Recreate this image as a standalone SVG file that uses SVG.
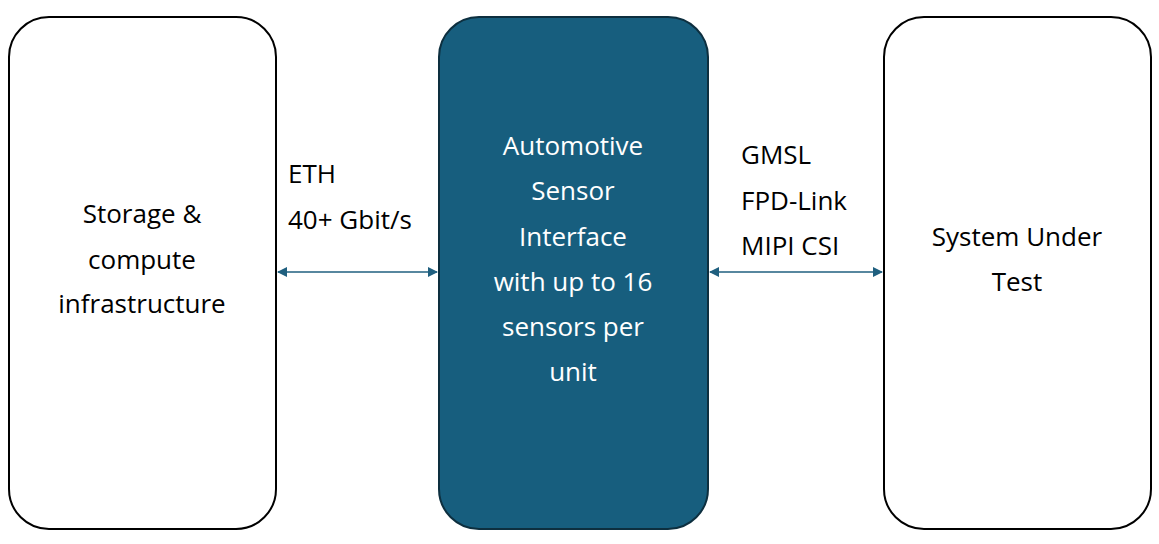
<svg xmlns="http://www.w3.org/2000/svg" width="1159" height="544" viewBox="0 0 1159 544">
<style>
.box{fill:#fff;stroke:#000;stroke-width:2}
.mid{fill:#175E7E;stroke:#0d2f3f;stroke-width:2}
text{font-family:"Open Sans","Liberation Sans",sans-serif;font-size:26px}
.c{text-anchor:middle}
.w{fill:#fff}
.conn{stroke:#1F5F7F;stroke-width:1.5;fill:none}
</style>
<defs>
<marker id="ah" viewBox="0 0 10 10" refX="9" refY="5" markerWidth="10" markerHeight="10" markerUnits="userSpaceOnUse" orient="auto-start-reverse"><path d="M0,0 L10,5 L0,10 z" fill="#1F5F7F"/></marker>
</defs>
<rect width="1159" height="544" fill="#fff"/>
<g id="storage"><rect class="box" x="9" y="17" width="267" height="512" rx="40"/>
<text class="c" x="142" y="223">Storage &amp;</text><text class="c" x="142" y="269">compute</text><text class="c" x="142" y="313">infrastructure</text></g>
<g id="interface"><rect class="mid" x="439" y="17" width="269" height="512" rx="40"/>
<text class="c w" x="573" y="155">Automotive</text><text class="c w" x="573" y="200">Sensor</text><text class="c w" x="573" y="246">Interface</text><text class="c w" x="573" y="291">with up to 16</text><text class="c w" x="573" y="336">sensors per</text><text class="c w" x="573" y="381">unit</text></g>
<g id="sut"><rect class="box" x="884" y="17" width="267" height="512" rx="40"/>
<text class="c" x="1017" y="246">System Under</text><text class="c" x="1017" y="291">Test</text></g>
<g id="connectors">
<line class="conn" x1="278" y1="272" x2="437" y2="272" marker-start="url(#ah)" marker-end="url(#ah)"/>
<line class="conn" x1="710" y1="272" x2="882" y2="272" marker-start="url(#ah)" marker-end="url(#ah)"/>
<text x="288" y="183">ETH</text><text x="288" y="229">40+ Gbit/s</text>
<text x="741" y="164">GMSL</text><text x="741" y="210">FPD-Link</text><text x="741" y="255">MIPI CSI</text>
</g>
</svg>
